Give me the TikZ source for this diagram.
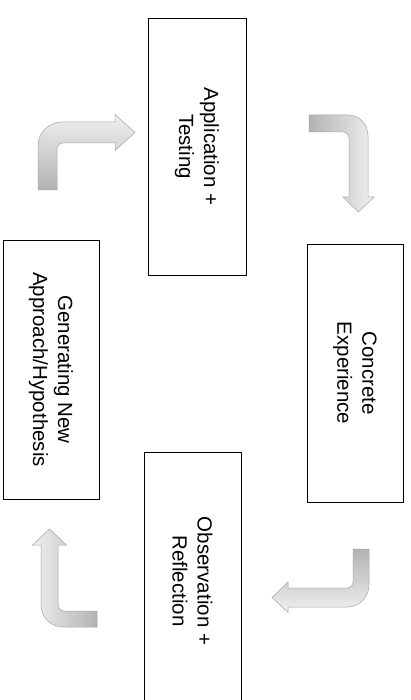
\documentclass[tikz,border=0pt]{standalone}
\usepackage{fontspec}
\setmainfont{Liberation Sans}
\begin{document}
\begin{tikzpicture}[x=1pt,y=-1pt,
  stagebox/.style={draw=black, line width=0.8pt, fill=white, rotate=-90,
    align=center, inner sep=0pt,
    font=\fontsize{20.5}{25}\selectfont},
  bentarrow/.style={draw=gray!70, line width=0.5pt}]
\clip (0,0) rectangle (411,700);
\fill[white] (0,0) rectangle (411,700);

% boxes
\node[stagebox, minimum width=257pt, minimum height=98pt] (apply) at (197,146.5) {Application +\\Testing};
\node[stagebox, minimum width=258pt, minimum height=96pt] (concrete) at (355,373) {Concrete\\Experience};
\node[stagebox, minimum width=258pt, minimum height=97pt] (observe) at (192.5,581) {Observation +\\Reflection};
\node[stagebox, minimum width=259pt, minimum height=96pt] (generate) at (51,369.5) {Generating New\\Approach/Hypothesis};

% arrow A: from bottom-left up, then right towards Application
\shade[bentarrow, bottom color=gray!60, middle color=gray!22, top color=gray!12]
  (38,190) -- (38,146) .. controls (38,132.75) and (48.75,122) .. (62,122)
  -- (115,122) -- (115,114.5) -- (135,132.5) -- (115,150.5) -- (115,143)
  -- (63,143) .. controls (59.7,143) and (57,145.7) .. (57,149) -- (57,190) -- cycle;

% arrow B: from left, right then down towards Concrete
\shade[bentarrow, left color=gray!60, middle color=gray!22, right color=gray!12]
  (309,115) -- (348,115) .. controls (359.6,115) and (368,124.4) .. (368,136)
  -- (368,197) -- (374,197) -- (358.5,212) -- (343,197) -- (349,197)
  -- (349,138) .. controls (349,134.7) and (346.3,132) .. (343,132)
  -- (309,132) -- cycle;

% arrow C: from top, down then left towards Observation
\shade[bentarrow, top color=gray!60, middle color=gray!22, bottom color=gray!12]
  (353,549) -- (369,549) -- (369,585) .. controls (369,597.2) and (359.2,607) .. (347,607)
  -- (288,607) -- (288,612.5) -- (272,597.5) -- (288,582) -- (288,588)
  -- (347,588) .. controls (350.3,588) and (353,585.3) .. (353,582) -- cycle;

% arrow D: from right, left then up towards Generating
\shade[bentarrow, right color=gray!60, middle color=gray!22, left color=gray!12]
  (97,611) -- (64,611) .. controls (60.7,611) and (58,608.3) .. (58,605)
  -- (58,545) -- (66.5,545) -- (49.5,529) -- (32.5,545) -- (41,545)
  -- (41,605) .. controls (41,617.2) and (50.8,627) .. (63,627)
  -- (97,627) -- cycle;
\end{tikzpicture}
\end{document}
